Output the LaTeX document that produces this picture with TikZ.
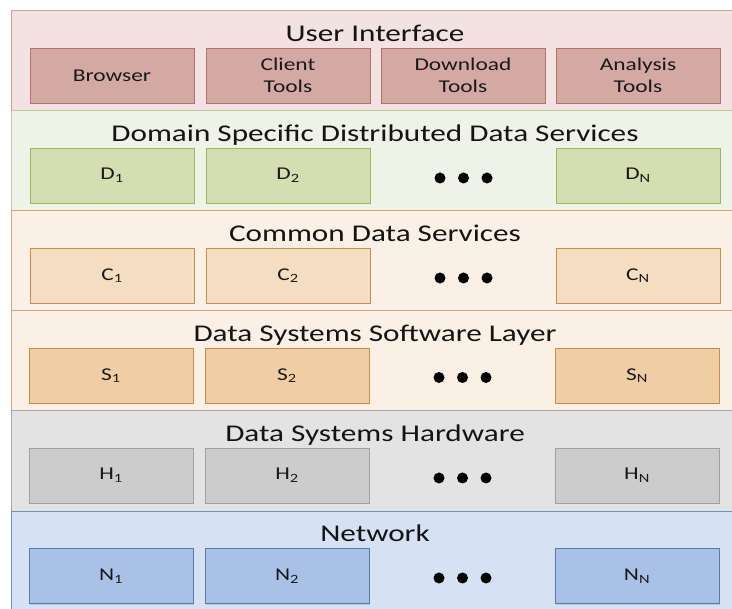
\documentclass[tikz,border=0pt]{standalone}
\usepackage{fontspec}
\setmainfont[FakeStretch=1.3]{Carlito}
\usetikzlibrary{shadows}
\newcommand{\lsub}[1]{\textsubscript{#1}}
\definecolor{uiband}{HTML}{F2E3E2}\definecolor{uibord}{HTML}{C9A09E}
\definecolor{uibox}{HTML}{D4A8A3}\definecolor{uiboxb}{HTML}{B5716B}
\definecolor{dband}{HTML}{EFF2E6}\definecolor{dbord}{HTML}{BFCC9E}
\definecolor{dbox}{HTML}{D4DEB0}\definecolor{dboxb}{HTML}{9BB466}
\definecolor{cband}{HTML}{FAF0E6}\definecolor{cbord}{HTML}{D0A878}
\definecolor{cbox}{HTML}{F5DDC2}\definecolor{cboxb}{HTML}{C58E50}
\definecolor{sbox}{HTML}{F0CDA2}
\definecolor{hband}{HTML}{E3E3E3}\definecolor{hbord}{HTML}{A8A8A8}
\definecolor{hbox}{HTML}{CCCCCC}\definecolor{hboxb}{HTML}{A0A0A0}
\definecolor{nband}{HTML}{D6E1F3}\definecolor{nbord}{HTML}{7090C0}
\definecolor{nbox}{HTML}{A9C1E7}\definecolor{nboxb}{HTML}{5A7AAE}
\begin{document}
\begin{tikzpicture}[x=1pt,y=-1pt,
  band/.style={line width=0.8pt},
  title/.style={anchor=base,font=\fontsize{24}{28}\selectfont,text=black!92},
  box/.style={minimum width=164pt,minimum height=55pt,inner sep=0pt,align=center,
    line width=0.8pt,font=\fontsize{18}{22}\selectfont,text=black!90,
    drop shadow={opacity=0.25,shadow xshift=1pt,shadow yshift=-1.5pt}},
  dot/.style={circle,fill=black,inner sep=0pt,minimum size=11pt}]
\useasboundingbox (0,0) rectangle (732,609);
% bands
\path[band,fill=uiband,draw=uibord] (11,10) rectangle (745,110);
\path[band,fill=dband,draw=dbord] (11,110) rectangle (745,210);
\path[band,fill=cband,draw=cbord] (11,210) rectangle (745,310);
\path[band,fill=cband,draw=cbord] (11,310) rectangle (745,410);
\path[band,fill=hband,draw=hbord] (11,410) rectangle (745,511);
\path[band,fill=nband,draw=nbord] (11,511) rectangle (745,620);
% titles
\node[title] (tui) at (375,42) {User Interface};
\node[title] (td) at (375,142) {Domain Specific Distributed Data Services};
\node[title] (tc) at (375,242) {Common Data Services};
\node[title] (ts) at (375,342) {Data Systems Software Layer};
\node[title] (th) at (375,442) {Data Systems Hardware};
\node[title] (tn) at (375,542) {Network};
% user interface
\node[box,fill=uibox,draw=uiboxb] (u1) at (112,75.5) {Browser};
\node[box,fill=uibox,draw=uiboxb] (u2) at (288,75.5) {Client\\Tools};
\node[box,fill=uibox,draw=uiboxb] (u3) at (463,75.5) {Download\\Tools};
\node[box,fill=uibox,draw=uiboxb] (u4) at (638,75.5) {Analysis\\Tools};
% domain
\node[box,fill=dbox,draw=dboxb] (d1) at (112,175.5) {D\lsub{1}};
\node[box,fill=dbox,draw=dboxb] (d2) at (288,175.5) {D\lsub{2}};
\node[dot] (dd1) at (440,178) {};\node[dot] (dd2) at (463.5,178) {};\node[dot] (dd3) at (487,178) {};
\node[box,fill=dbox,draw=dboxb] (dn) at (638,175.5) {D\lsub{N}};
% common
\node[box,fill=cbox,draw=cboxb] (c1) at (112,275.5) {C\lsub{1}};
\node[box,fill=cbox,draw=cboxb] (c2) at (288,275.5) {C\lsub{2}};
\node[dot] (cd1) at (440,278) {};\node[dot] (cd2) at (463.5,278) {};\node[dot] (cd3) at (487,278) {};
\node[box,fill=cbox,draw=cboxb] (cn) at (638,275.5) {C\lsub{N}};
% software
\node[box,fill=sbox,draw=cboxb] (s1) at (111,375.5) {S\lsub{1}};
\node[box,fill=sbox,draw=cboxb] (s2) at (287,375.5) {S\lsub{2}};
\node[dot] (sd1) at (439,377.5) {};\node[dot] (sd2) at (462.5,377.5) {};\node[dot] (sd3) at (486,377.5) {};
\node[box,fill=sbox,draw=cboxb] (sn) at (637,375.5) {S\lsub{N}};
% hardware
\node[box,fill=hbox,draw=hboxb] (h1) at (111,475.5) {H\lsub{1}};
\node[box,fill=hbox,draw=hboxb] (h2) at (287,475.5) {H\lsub{2}};
\node[dot] (hd1) at (439,478) {};\node[dot] (hd2) at (462.5,478) {};\node[dot] (hd3) at (486,478) {};
\node[box,fill=hbox,draw=hboxb] (hn) at (637,475.5) {H\lsub{N}};
% network
\node[box,fill=nbox,draw=nboxb] (n1) at (111,576) {N\lsub{1}};
\node[box,fill=nbox,draw=nboxb] (n2) at (287,576) {N\lsub{2}};
\node[dot] (nd1) at (439,578) {};\node[dot] (nd2) at (462.5,578) {};\node[dot] (nd3) at (486,578) {};
\node[box,fill=nbox,draw=nboxb] (nn) at (637,576) {N\lsub{N}};
\end{tikzpicture}
\end{document}
